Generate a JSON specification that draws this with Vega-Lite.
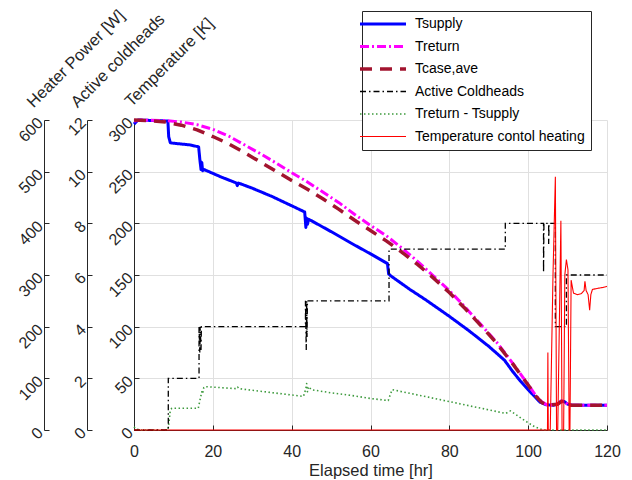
{
  "$schema": "https://vega.github.io/schema/vega-lite/v6.json",
  "autosize": "none",
  "padding": {"left": 134, "top": 120, "right": 25, "bottom": 50},
  "width": 473,
  "height": 310,
  "config": {
    "font": "Liberation Sans",
    "view": {"stroke": null},
    "axis": {"labelFont": "Liberation Sans", "titleFont": "Liberation Sans", "labelColor": "#262626", "titleColor": "#262626", "domainColor": "#262626", "tickColor": "#262626", "titleFontWeight": "normal", "labelFontSize": 16, "titleFontSize": 16.5}
  },
  "datasets": {
    "temp": [
      {"series": "Tsupply", "t": 0, "v": 296}, {"series": "Tsupply", "t": 0.5, "v": 298}, {"series": "Tsupply", "t": 1, "v": 300}, {"series": "Tsupply", "t": 8.6, "v": 299}, {"series": "Tsupply", "t": 8.8, "v": 284}, {"series": "Tsupply", "t": 9.2, "v": 278}, {"series": "Tsupply", "t": 10, "v": 277.5}, {"series": "Tsupply", "t": 14, "v": 276}, {"series": "Tsupply", "t": 16.4, "v": 274}, {"series": "Tsupply", "t": 16.7, "v": 262}, {"series": "Tsupply", "t": 17.0, "v": 252}, {"series": "Tsupply", "t": 17.2, "v": 259}, {"series": "Tsupply", "t": 17.4, "v": 251}, {"series": "Tsupply", "t": 17.8, "v": 252}, {"series": "Tsupply", "t": 22, "v": 245}, {"series": "Tsupply", "t": 26, "v": 239}, {"series": "Tsupply", "t": 26.2, "v": 236.5}, {"series": "Tsupply", "t": 26.5, "v": 239}, {"series": "Tsupply", "t": 30, "v": 234}, {"series": "Tsupply", "t": 35, "v": 226}, {"series": "Tsupply", "t": 40, "v": 217}, {"series": "Tsupply", "t": 43.3, "v": 211}, {"series": "Tsupply", "t": 43.6, "v": 196}, {"series": "Tsupply", "t": 43.8, "v": 205}, {"series": "Tsupply", "t": 44.0, "v": 199}, {"series": "Tsupply", "t": 44.3, "v": 204}, {"series": "Tsupply", "t": 50, "v": 192}, {"series": "Tsupply", "t": 55, "v": 181}, {"series": "Tsupply", "t": 60, "v": 170.5}, {"series": "Tsupply", "t": 64.3, "v": 161}, {"series": "Tsupply", "t": 64.6, "v": 151}, {"series": "Tsupply", "t": 65.2, "v": 149}, {"series": "Tsupply", "t": 70, "v": 136}, {"series": "Tsupply", "t": 74, "v": 126}, {"series": "Tsupply", "t": 80, "v": 110}, {"series": "Tsupply", "t": 85, "v": 96}, {"series": "Tsupply", "t": 90, "v": 81}, {"series": "Tsupply", "t": 94, "v": 67.5}, {"series": "Tsupply", "t": 96, "v": 57}, {"series": "Tsupply", "t": 98, "v": 47.5}, {"series": "Tsupply", "t": 100, "v": 39}, {"series": "Tsupply", "t": 101.5, "v": 33}, {"series": "Tsupply", "t": 103, "v": 27}, {"series": "Tsupply", "t": 104.5, "v": 24.5}, {"series": "Tsupply", "t": 106.5, "v": 24}, {"series": "Tsupply", "t": 107.5, "v": 25.5}, {"series": "Tsupply", "t": 108.4, "v": 28}, {"series": "Tsupply", "t": 109.2, "v": 27.5}, {"series": "Tsupply", "t": 110, "v": 25}, {"series": "Tsupply", "t": 111, "v": 24}, {"series": "Tsupply", "t": 120, "v": 24},
      {"series": "Treturn", "t": 0, "v": 299}, {"series": "Treturn", "t": 2, "v": 300}, {"series": "Treturn", "t": 8, "v": 299.5}, {"series": "Treturn", "t": 12, "v": 298}, {"series": "Treturn", "t": 16, "v": 295.5}, {"series": "Treturn", "t": 20, "v": 291}, {"series": "Treturn", "t": 24, "v": 284.5}, {"series": "Treturn", "t": 28, "v": 276}, {"series": "Treturn", "t": 32, "v": 267.5}, {"series": "Treturn", "t": 36, "v": 258.5}, {"series": "Treturn", "t": 40, "v": 249}, {"series": "Treturn", "t": 44, "v": 240}, {"series": "Treturn", "t": 48, "v": 230}, {"series": "Treturn", "t": 52, "v": 220}, {"series": "Treturn", "t": 56, "v": 208.5}, {"series": "Treturn", "t": 60, "v": 198}, {"series": "Treturn", "t": 64, "v": 188}, {"series": "Treturn", "t": 68, "v": 176}, {"series": "Treturn", "t": 72, "v": 163}, {"series": "Treturn", "t": 76, "v": 149}, {"series": "Treturn", "t": 80, "v": 135}, {"series": "Treturn", "t": 84, "v": 119}, {"series": "Treturn", "t": 88, "v": 102}, {"series": "Treturn", "t": 92, "v": 85}, {"series": "Treturn", "t": 96, "v": 65}, {"series": "Treturn", "t": 100, "v": 44}, {"series": "Treturn", "t": 102, "v": 33}, {"series": "Treturn", "t": 103.5, "v": 27}, {"series": "Treturn", "t": 105, "v": 24}, {"series": "Treturn", "t": 107.5, "v": 25}, {"series": "Treturn", "t": 108.4, "v": 28}, {"series": "Treturn", "t": 109.2, "v": 27.5}, {"series": "Treturn", "t": 110, "v": 25}, {"series": "Treturn", "t": 111, "v": 24}, {"series": "Treturn", "t": 120, "v": 24},
      {"series": "Tcase,ave", "t": 0, "v": 300}, {"series": "Tcase,ave", "t": 4, "v": 299.5}, {"series": "Tcase,ave", "t": 8, "v": 298}, {"series": "Tcase,ave", "t": 12, "v": 295}, {"series": "Tcase,ave", "t": 16, "v": 290.5}, {"series": "Tcase,ave", "t": 20, "v": 284}, {"series": "Tcase,ave", "t": 24, "v": 277}, {"series": "Tcase,ave", "t": 28, "v": 268.5}, {"series": "Tcase,ave", "t": 32, "v": 259.5}, {"series": "Tcase,ave", "t": 36, "v": 250.5}, {"series": "Tcase,ave", "t": 40, "v": 241.5}, {"series": "Tcase,ave", "t": 44, "v": 233}, {"series": "Tcase,ave", "t": 48, "v": 223.5}, {"series": "Tcase,ave", "t": 52, "v": 213.5}, {"series": "Tcase,ave", "t": 56, "v": 203}, {"series": "Tcase,ave", "t": 60, "v": 193}, {"series": "Tcase,ave", "t": 64, "v": 183}, {"series": "Tcase,ave", "t": 68, "v": 172}, {"series": "Tcase,ave", "t": 72, "v": 160}, {"series": "Tcase,ave", "t": 76, "v": 147}, {"series": "Tcase,ave", "t": 80, "v": 133}, {"series": "Tcase,ave", "t": 84, "v": 117.5}, {"series": "Tcase,ave", "t": 88, "v": 101}, {"series": "Tcase,ave", "t": 92, "v": 84}, {"series": "Tcase,ave", "t": 96, "v": 64.5}, {"series": "Tcase,ave", "t": 100, "v": 43.5}, {"series": "Tcase,ave", "t": 102, "v": 32.5}, {"series": "Tcase,ave", "t": 103.5, "v": 26.5}, {"series": "Tcase,ave", "t": 105, "v": 24}, {"series": "Tcase,ave", "t": 107.5, "v": 25}, {"series": "Tcase,ave", "t": 108.4, "v": 27.5}, {"series": "Tcase,ave", "t": 109.2, "v": 27}, {"series": "Tcase,ave", "t": 110, "v": 25}, {"series": "Tcase,ave", "t": 111, "v": 24}, {"series": "Tcase,ave", "t": 120, "v": 24},
      {"series": "Treturn - Tsupply", "t": 0, "v": 3}, {"series": "Treturn - Tsupply", "t": 0.5, "v": 1}, {"series": "Treturn - Tsupply", "t": 1.5, "v": 0}, {"series": "Treturn - Tsupply", "t": 8.6, "v": 0}, {"series": "Treturn - Tsupply", "t": 8.9, "v": 8}, {"series": "Treturn - Tsupply", "t": 9.2, "v": 19}, {"series": "Treturn - Tsupply", "t": 9.6, "v": 21}, {"series": "Treturn - Tsupply", "t": 16.3, "v": 21}, {"series": "Treturn - Tsupply", "t": 16.8, "v": 30}, {"series": "Treturn - Tsupply", "t": 17.2, "v": 37}, {"series": "Treturn - Tsupply", "t": 17.4, "v": 35}, {"series": "Treturn - Tsupply", "t": 17.7, "v": 41}, {"series": "Treturn - Tsupply", "t": 18, "v": 42}, {"series": "Treturn - Tsupply", "t": 22, "v": 41}, {"series": "Treturn - Tsupply", "t": 26, "v": 40}, {"series": "Treturn - Tsupply", "t": 26.3, "v": 41.5}, {"series": "Treturn - Tsupply", "t": 26.6, "v": 40}, {"series": "Treturn - Tsupply", "t": 43, "v": 32.5}, {"series": "Treturn - Tsupply", "t": 43.6, "v": 40}, {"series": "Treturn - Tsupply", "t": 43.8, "v": 45}, {"series": "Treturn - Tsupply", "t": 44, "v": 37}, {"series": "Treturn - Tsupply", "t": 44.3, "v": 42}, {"series": "Treturn - Tsupply", "t": 45, "v": 39}, {"series": "Treturn - Tsupply", "t": 50, "v": 36}, {"series": "Treturn - Tsupply", "t": 55, "v": 33.5}, {"series": "Treturn - Tsupply", "t": 60, "v": 30.5}, {"series": "Treturn - Tsupply", "t": 64.5, "v": 28.5}, {"series": "Treturn - Tsupply", "t": 65, "v": 34}, {"series": "Treturn - Tsupply", "t": 65.5, "v": 39}, {"series": "Treturn - Tsupply", "t": 70, "v": 35.5}, {"series": "Treturn - Tsupply", "t": 75, "v": 31.5}, {"series": "Treturn - Tsupply", "t": 80, "v": 27.5}, {"series": "Treturn - Tsupply", "t": 85, "v": 23.5}, {"series": "Treturn - Tsupply", "t": 90, "v": 19.5}, {"series": "Treturn - Tsupply", "t": 94.3, "v": 16}, {"series": "Treturn - Tsupply", "t": 95.5, "v": 18.5}, {"series": "Treturn - Tsupply", "t": 98, "v": 12}, {"series": "Treturn - Tsupply", "t": 100, "v": 7}, {"series": "Treturn - Tsupply", "t": 101.7, "v": 3}, {"series": "Treturn - Tsupply", "t": 103.4, "v": 0.6}, {"series": "Treturn - Tsupply", "t": 104.5, "v": 0}, {"series": "Treturn - Tsupply", "t": 120, "v": 0}
    ],
    "ch": [
      {"i": 0, "t": 0, "n": 0}, {"i": 1, "t": 8.7, "n": 0}, {"i": 2, "t": 8.7, "n": 2}, {"i": 3, "t": 16.5, "n": 2}, {"i": 4, "t": 16.5, "n": 4}, {"i": 5, "t": 16.7, "n": 3}, {"i": 6, "t": 16.8, "n": 4}, {"i": 7, "t": 17.0, "n": 3.1}, {"i": 8, "t": 17.1, "n": 4}, {"i": 9, "t": 43.5, "n": 4}, {"i": 10, "t": 43.5, "n": 5}, {"i": 11, "t": 43.7, "n": 3.1}, {"i": 12, "t": 43.8, "n": 5}, {"i": 13, "t": 43.9, "n": 3.6}, {"i": 14, "t": 44.0, "n": 5}, {"i": 15, "t": 64.7, "n": 5}, {"i": 16, "t": 64.7, "n": 7}, {"i": 17, "t": 94.2, "n": 7}, {"i": 18, "t": 94.2, "n": 8}, {"i": 19, "t": 103.9, "n": 8}, {"i": 20, "t": 103.9, "n": 6.1}, {"i": 21, "t": 104.0, "n": 8}, {"i": 22, "t": 105.2, "n": 8}, {"i": 23, "t": 105.2, "n": 7.2}, {"i": 24, "t": 105.3, "n": 8}, {"i": 25, "t": 106.9, "n": 8}, {"i": 26, "t": 106.9, "n": 4}, {"i": 27, "t": 109.7, "n": 4}, {"i": 28, "t": 109.7, "n": 6}, {"i": 29, "t": 120, "n": 6}
    ],
    "heat": [
      {"i": 0, "t": 0, "w": 0}, {"i": 1, "t": 104.9, "w": 0}, {"i": 2, "t": 105.0, "w": 150}, {"i": 3, "t": 105.1, "w": 0}, {"i": 4, "t": 105.6, "w": 0}, {"i": 5, "t": 106.3, "w": 300}, {"i": 6, "t": 106.9, "w": 490}, {"i": 7, "t": 107.2, "w": 0}, {"i": 8, "t": 107.5, "w": 0}, {"i": 9, "t": 107.9, "w": 200}, {"i": 10, "t": 108.3, "w": 405}, {"i": 11, "t": 108.6, "w": 0}, {"i": 12, "t": 109.0, "w": 0}, {"i": 13, "t": 109.3, "w": 300}, {"i": 14, "t": 109.7, "w": 330}, {"i": 15, "t": 110.1, "w": 310}, {"i": 16, "t": 110.4, "w": 0}, {"i": 17, "t": 110.6, "w": 0}, {"i": 18, "t": 110.9, "w": 290}, {"i": 19, "t": 111.5, "w": 265}, {"i": 20, "t": 112.5, "w": 262}, {"i": 21, "t": 113.5, "w": 264}, {"i": 22, "t": 114.2, "w": 270}, {"i": 23, "t": 114.4, "w": 288}, {"i": 24, "t": 114.7, "w": 270}, {"i": 25, "t": 115.2, "w": 262}, {"i": 26, "t": 115.6, "w": 232}, {"i": 27, "t": 115.9, "w": 262}, {"i": 28, "t": 116.3, "w": 272}, {"i": 29, "t": 117.5, "w": 274}, {"i": 30, "t": 119, "w": 276}, {"i": 31, "t": 120, "w": 278}
    ]
  },
  "encoding": {
    "x": {"field": "t", "type": "quantitative", "scale": {"domain": [0, 120], "nice": false}, "axis": {"title": "Elapsed time [hr]", "values": [0, 20, 40, 60, 80, 100, 120], "grid": true, "gridColor": "#e0e0e0", "tickSize": -5, "labelPadding": 18, "titlePadding": 3, "labelFlush": false}},
    "color": {"field": "series", "type": "nominal", "scale": {"domain": ["Tsupply", "Treturn", "Tcase,ave", "Active Coldheads", "Treturn - Tsupply", "Temperature contol heating"], "range": ["#0000ff", "#ff00ff", "#a2142f", "#000000", "#3d9a3d", "#ff0000"]}, "legend": {"title": null, "orient": "none", "legendX": 228, "legendY": -109, "symbolType": "M-2,0H2", "symbolSize": 529, "symbolOffset": 8, "labelOffset": 25, "labelFontSize": 14, "labelLimit": 400, "labelColor": "#000000", "labelFont": "Liberation Sans", "strokeColor": "#262626", "fillColor": "#ffffff", "padding": 6, "rowPadding": 8.5, "symbolOpacity": 1,
      "encode": {"symbols": {"update": {"strokeWidth": {"signal": "datum.value == 'Tcase,ave' ? 3.5 : (datum.value == 'Tsupply' || datum.value == 'Treturn') ? 3 : datum.value == 'Active Coldheads' ? 1.3 : datum.value == 'Treturn - Tsupply' ? 1.6 : 1.1"}}}}}},
    "strokeDash": {"field": "series", "type": "nominal", "scale": {"domain": ["Tsupply", "Treturn", "Tcase,ave", "Active Coldheads", "Treturn - Tsupply", "Temperature contol heating"], "range": [[1, 0], [9, 3, 2, 3], [12, 8], [6, 3, 1.5, 3], [1.5, 2.5], [1, 0]]}, "legend": null}
  },
  "layer": [
    {
      "data": {"name": "temp"},
      "mark": {"type": "line", "strokeJoin": "round", "strokeWidth": {"expr": "datum.series == 'Tcase,ave' ? 3.5 : datum.series == 'Treturn - Tsupply' ? 1.6 : 3"}},
      "encoding": {
        "y": {"field": "v", "type": "quantitative", "scale": {"domain": [0, 300], "nice": false}, "axis": {"orient": "left", "title": "Temperature [K]", "values": [0, 50, 100, 150, 200, 250, 300], "grid": true, "gridColor": "#e0e0e0", "tickSize": -5, "labelAngle": -45, "labelAlign": "right", "labelBaseline": "middle", "labelPadding": 9, "titleAngle": -45, "titleAlign": "left", "titleBaseline": "alphabetic", "titleX": -3, "titleY": -13}}
      }
    },
    {
      "data": {"name": "ch"},
      "transform": [{"calculate": "'Active Coldheads'", "as": "series"}],
      "mark": {"type": "line", "strokeWidth": 1.3},
      "encoding": {
        "order": {"field": "i", "type": "quantitative"},
        "y": {"field": "n", "type": "quantitative", "scale": {"domain": [0, 12], "nice": false}, "axis": {"orient": "left", "offset": 47, "title": "Active coldheads", "values": [0, 2, 4, 6, 8, 10, 12], "grid": false, "tickSize": -5, "labelAngle": -45, "labelAlign": "right", "labelBaseline": "middle", "labelPadding": 9, "titleAngle": -45, "titleAlign": "left", "titleBaseline": "alphabetic", "titleX": -10, "titleY": -12}}
      }
    },
    {
      "data": {"name": "heat"},
      "transform": [{"calculate": "'Temperature contol heating'", "as": "series"}],
      "mark": {"type": "line", "strokeWidth": 1.1},
      "encoding": {
        "order": {"field": "i", "type": "quantitative"},
        "y": {"field": "w", "type": "quantitative", "scale": {"domain": [0, 600], "nice": false}, "axis": {"orient": "left", "offset": 90, "title": "Heater Power [W]", "values": [0, 100, 200, 300, 400, 500, 600], "grid": false, "tickSize": -5, "labelAngle": -45, "labelAlign": "right", "labelBaseline": "middle", "labelPadding": 9, "titleAngle": -45, "titleAlign": "left", "titleBaseline": "alphabetic", "titleX": -11, "titleY": -12}}
      }
    }
  ],
  "resolve": {"scale": {"y": "independent"}, "axis": {"y": "independent"}}
}
